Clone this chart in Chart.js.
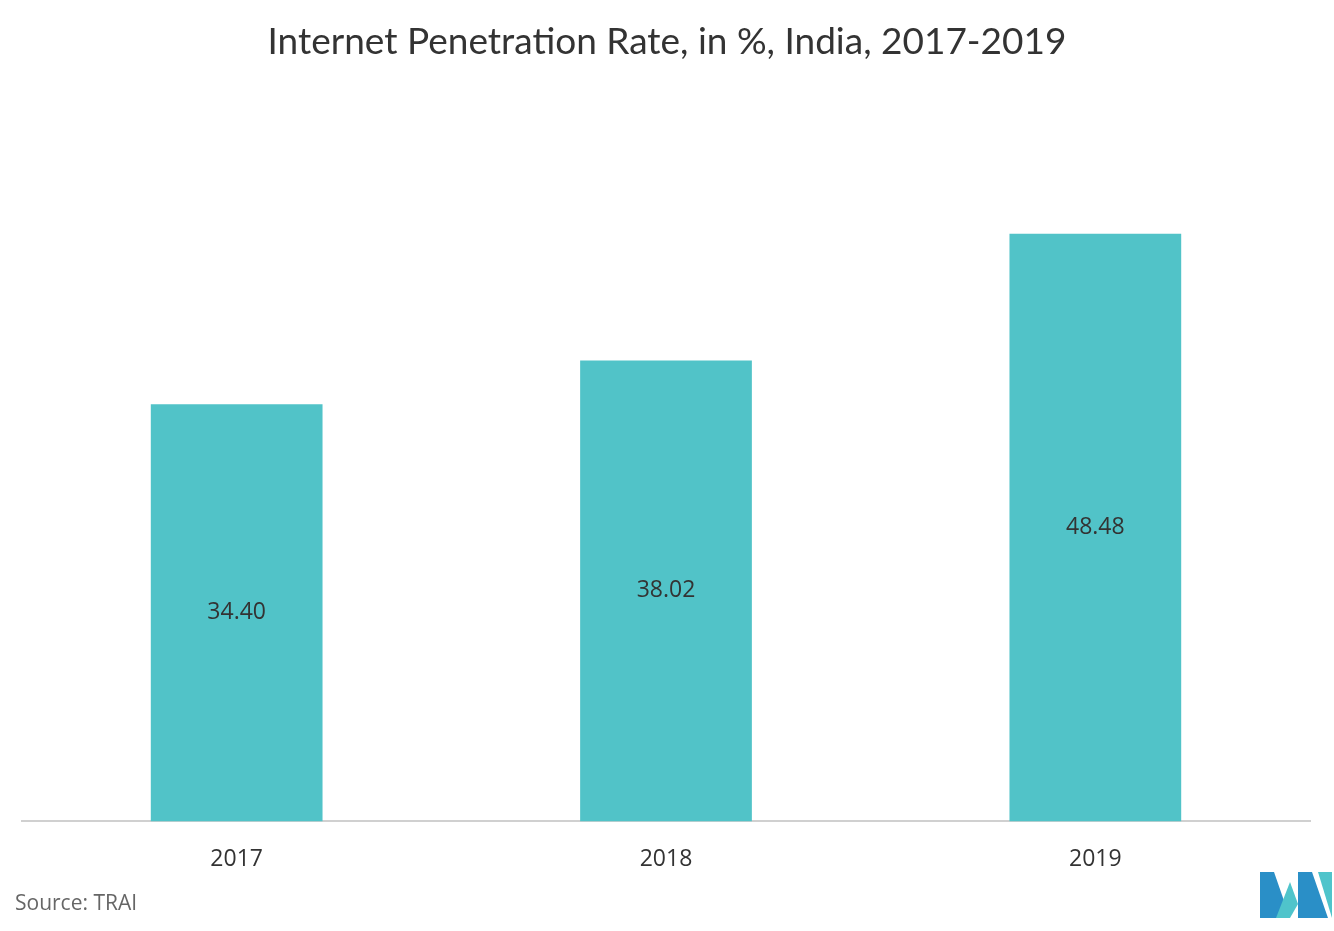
<!DOCTYPE html>
<html>
<head>
<meta charset="utf-8">
<script src="https://cdn.jsdelivr.net/npm/chart.js@4/dist/chart.umd.min.js"></script>
<style>
  body { margin: 0; background: #fff; }
  #wrap { position: relative; width: 1334px; height: 931px; }
  #title { position: absolute; top: 17px; left: 0; width: 1334px; text-align: center;
           font: 400 37px "Lato", sans-serif; color: #333; }
  #source { position: absolute; left: 15px; top: 888px; font: 21px "Open Sans", sans-serif; color: #666; }
  #logo { position: absolute; left: 1260px; top: 872px; }
</style>
</head>
<body>
<div id="wrap">
  <canvas id="chart" width="1334" height="931"></canvas>
  <div id="title">Internet Penetration Rate, in %, India, 2017-2019</div>
  <div id="source">Source: TRAI</div>
  <svg id="logo" width="74" height="46" viewBox="0 0 74 46">
    <polygon points="0,46 0,0 14,0 30,46" fill="#2a8fc7"/>
    <polygon points="16,46 30,10 38,32 30,46" fill="#4fc4cb"/>
    <polygon points="38,46 38,0 52,0 68,46" fill="#2a8fc7"/>
    <polygon points="58,0 72,0 72,46" fill="#4fc4cb"/>
  </svg>
</div>
<script>
// données
const years = ['2017', '2018', '2019'];
const rates = [34.40, 38.02, 48.48];

// étiquettes au milieu des barres
const midLabels = {
  id: 'midLabels',
  afterDatasetsDraw(chart) {
    const ctx = chart.ctx;
    ctx.save();
    ctx.font = '23px "Open Sans", sans-serif';
    ctx.fillStyle = '#333';
    ctx.textAlign = 'center';
    ctx.textBaseline = 'middle';
    chart.getDatasetMeta(0).data.forEach((bar, i) => {
      ctx.fillText(rates[i].toFixed(2), bar.x, (bar.y + bar.base) / 2);
    });
    ctx.restore();
  }
};

new Chart(document.getElementById('chart'), {
  type: 'bar',
  data: { labels: years, datasets: [{ data: rates, backgroundColor: '#51c3c8', categoryPercentage: 0.4, barPercentage: 1 }] },
  options: {
    responsive: false,
    animation: false,
    layout: { padding: { left: 22, right: 24, top: 94, bottom: 34 } },
    plugins: { legend: { display: false }, tooltip: { enabled: false } },
    scales: {
      x: {
        grid: { display: false, drawTicks: false },
        border: { color: '#d0d0d0', width: 2 },
        ticks: { color: '#333', font: { size: 23, family: 'Open Sans' }, padding: 24 }
      },
      y: { display: false, min: 0, max: 60 }
    }
  },
  plugins: [midLabels]
});
</script>
</body>
</html>
